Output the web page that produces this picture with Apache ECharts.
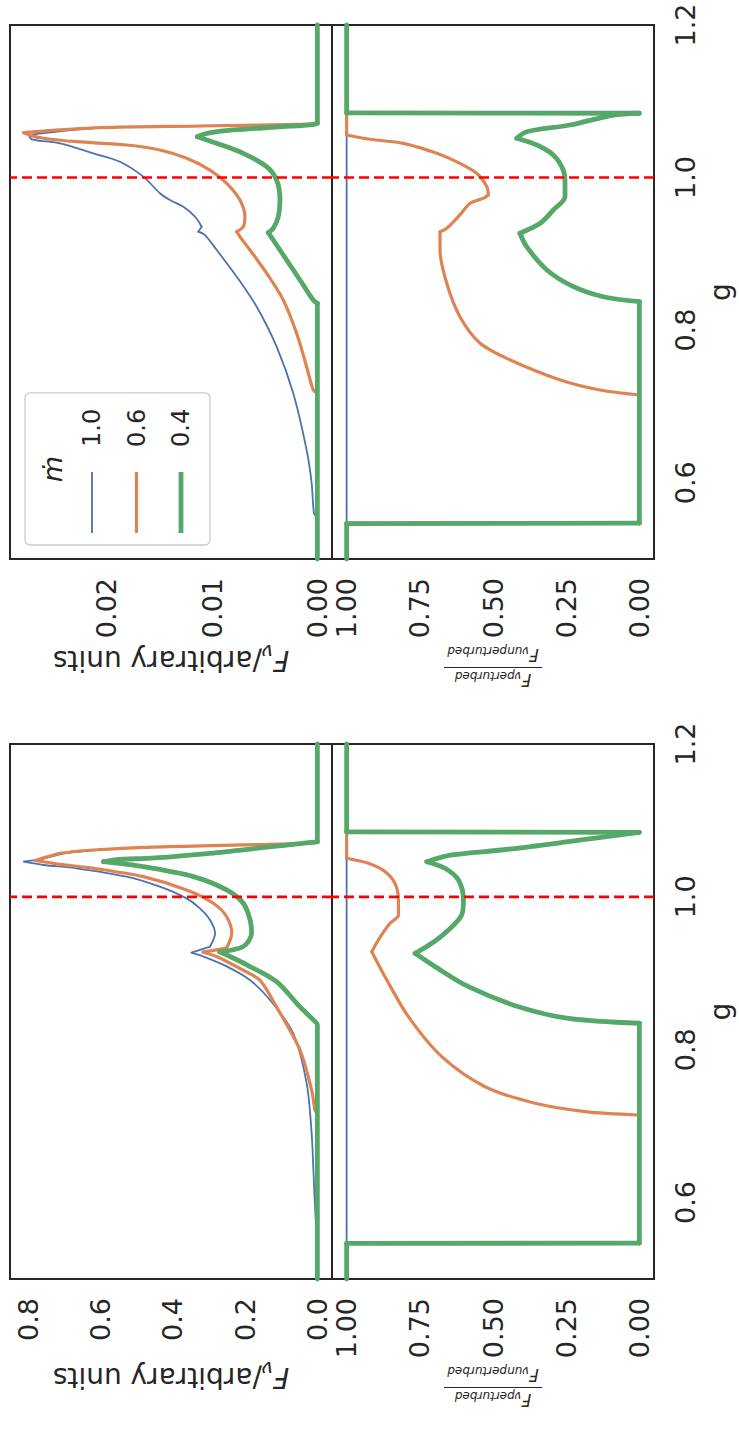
<!DOCTYPE html>
<html><head><meta charset="utf-8">
<script src="https://cdn.jsdelivr.net/npm/echarts@6/dist/echarts.min.js"></script>
<style>
html,body{margin:0;padding:0;background:#fff;overflow:hidden;width:739px;height:1436px;}
#wrap{position:absolute;left:0;top:0;width:1436px;height:739px;transform-origin:0 0;transform:translate(0px,1436px) rotate(-90deg);background:#fff;}
</style></head><body><div id="wrap"></div><script>
// ---- tick values ----
const gTicks = [0.6, 0.8, 1.0, 1.2];
const strongFluxTicks = [0, 0.2, 0.4, 0.6, 0.8];
const weakFluxTicks = [0, 0.01, 0.02];
const ratioTicks = [0, 0.25, 0.5, 0.75, 1.0];
const mdotNames = ['1.0', '0.6', '0.4'];

// ---- left figure (strong) : F_nu vs g ----
const strongFlux10 = [[0.5,0],[0.545,0],[0.55,0.001],[0.5815,0.005],[0.625,0.0094],[0.6906,0.0158],[0.756,0.0296],[0.8215,0.0667],[0.865,0.131],[0.891,0.186],[0.909,0.251],[0.922,0.316],[0.927,0.348],[0.935,0.297],[0.9523,0.283],[0.9697,0.297],[0.985,0.325],[0.998,0.362],[1.0133,0.436],[1.0264,0.528],[1.0374,0.666],[1.0417,0.758],[1.046,0.812],[1.049,0.77],[1.053,0.735],[1.057,0.70],[1.0613,0.61],[1.0648,0.475],[1.067,0.29],[1.070,0.02],[1.0715,0],[1.2,0]];
const strongFlux06 = [[0.5,0],[0.715,0],[0.718,0.003],[0.721,0.0066],[0.747,0.0158],[0.7996,0.048],[0.856,0.113],[0.891,0.159],[0.904,0.205],[0.922,0.279],[0.9276,0.316],[0.933,0.251],[0.9523,0.237],[0.974,0.251],[0.9916,0.288],[1.009,0.362],[1.0264,0.482],[1.0374,0.62],[1.0426,0.712],[1.0476,0.78],[1.052,0.75],[1.057,0.712],[1.0613,0.62],[1.0648,0.482],[1.067,0.297],[1.070,0.02],[1.0715,0],[1.2,0]];
const strongFlux04 = [[0.5,0],[0.8325,0],[0.839,0.011],[0.856,0.048],[0.889,0.113],[0.911,0.195],[0.922,0.242],[0.928,0.27],[0.935,0.205],[0.9523,0.182],[0.9697,0.186],[0.9916,0.205],[1.009,0.251],[1.0264,0.343],[1.0395,0.482],[1.046,0.592],[1.0485,0.56],[1.051,0.45],[1.057,0.297],[1.065,0.14],[1.0705,0.03],[1.072,0],[1.2,0]];
// ---- left figure (strong) : ratio vs g ----
const strongRatio10 = [[0.5,1],[1.2,1]];
const strongRatio06 = [[0.5,1],[0.547,1],[0.5472,0],[0.7146,0],[0.719,0.185],[0.7299,0.356],[0.7516,0.527],[0.7909,0.675],[0.8432,0.789],[0.8955,0.869],[0.9282,0.914],[0.9435,0.892],[0.9654,0.852],[0.9763,0.823],[0.9959,0.823],[1.0177,0.835],[1.033,0.869],[1.0439,0.926],[1.0505,1],[1.2,1]];
const strongRatio04 = [[0.5,1],[0.5465,1],[0.547,0],[0.8346,0],[0.8411,0.243],[0.8563,0.413],[0.8825,0.584],[0.9087,0.698],[0.9261,0.766],[0.9392,0.709],[0.9566,0.652],[0.9763,0.607],[0.9959,0.601],[1.022,0.618],[1.0374,0.664],[1.046,0.726],[1.0548,0.641],[1.0613,0.47],[1.0722,0.243],[1.0809,0.072],[1.0845,0],[1.085,1],[1.2,1]];

// ---- right figure (weak) : F_nu vs g ----
const weakFlux10 = [[0.5,0],[0.553,0],[0.5599,0.00032],[0.5992,0.00054],[0.6429,0.00102],[0.7172,0.00229],[0.7783,0.00387],[0.8307,0.00576],[0.8701,0.00766],[0.9051,0.00956],[0.9247,0.01067],[0.9291,0.01131],[0.9356,0.01099],[0.9487,0.01162],[0.9618,0.01273],[0.9706,0.014],[0.9794,0.01495],[1.0012,0.01653],[1.0208,0.01875],[1.0318,0.02128],[1.0449,0.02444],[1.0502,0.02713],[1.056,0.0274],[1.0654,0.0203],[1.0676,0.0109],[1.0702,0.0003],[1.0715,0],[1.2,0]];
const weakFlux06 = [[0.5,0],[0.716,0],[0.7215,0.00039],[0.7521,0.00102],[0.7959,0.00197],[0.8395,0.00324],[0.8745,0.00481],[0.9051,0.0064],[0.9225,0.00735],[0.9291,0.00766],[0.9356,0.00704],[0.9487,0.00688],[0.9706,0.00735],[0.9925,0.00861],[1.0099,0.0102],[1.0253,0.01241],[1.0362,0.01495],[1.0427,0.01811],[1.047,0.02286],[1.0515,0.02603],[1.055,0.0272],[1.059,0.0279],[1.0654,0.0206],[1.0676,0.0111],[1.0702,0.0004],[1.0715,0],[1.2,0]];
const weakFlux04 = [[0.5,0],[0.8352,0],[0.8395,0.00039],[0.8657,0.00165],[0.892,0.00292],[0.9182,0.00419],[0.9277,0.00466],[0.9335,0.00419],[0.9487,0.00371],[0.9706,0.00355],[0.9968,0.00387],[1.0143,0.00482],[1.0318,0.00704],[1.0449,0.00956],[1.0536,0.0114],[1.058,0.0105],[1.0624,0.0080],[1.0667,0.0033],[1.0695,0.0004],[1.0712,0],[1.2,0]];
// ---- right figure (weak) : ratio vs g ----
const weakRatio10 = [[0.5,1],[1.2,1]];
const weakRatio06 = [[0.5,1],[0.547,1],[0.5472,0],[0.715,0],[0.7215,0.134],[0.7347,0.27],[0.7609,0.441],[0.7828,0.544],[0.8176,0.613],[0.8614,0.658],[0.9051,0.681],[0.9291,0.681],[0.9335,0.658],[0.951,0.613],[0.9663,0.578],[0.9728,0.533],[0.9772,0.516],[0.988,0.521],[1.0056,0.556],[1.0187,0.613],[1.0318,0.692],[1.0449,0.806],[1.0502,0.92],[1.0558,1],[1.2,1]];
const weakRatio04 = [[0.5,1],[0.5465,1],[0.547,0],[0.8373,0],[0.8438,0.123],[0.857,0.225],[0.8789,0.316],[0.9094,0.385],[0.927,0.408],[0.94,0.339],[0.9575,0.294],[0.975,0.254],[0.9925,0.254],[1.0099,0.26],[1.0296,0.294],[1.0427,0.35],[1.0515,0.419],[1.0601,0.385],[1.0689,0.237],[1.082,0.089],[1.0843,0],[1.0848,1],[1.2,1]];

const redLineG = 1.0;

// ---- styling ----
const FONT = 'DejaVu Sans';
const TXT = '#262626';
const COLORS = {'1.0':'#4C72B0','0.6':'#DD8452','0.4':'#55A868'};
const WIDTHS = {'1.0':1.8,'0.6':3.2,'0.4':4.8};

const chart = echarts.init(document.getElementById('wrap'), null, {renderer:'svg', width:1436, height:739});

const grids = [
  {left:157, top:10, width:535, height:322},
  {left:157, top:332, width:535, height:322},
  {left:877, top:10, width:534, height:322},
  {left:877, top:332, width:534, height:322}
].map(g => Object.assign(g, {show:true, borderColor:'#262626', borderWidth:2, backgroundColor:'rgba(0,0,0,0)', containLabel:false, outerBoundsMode:'none'}));

function xAx(i, showLabels) {
  return {
    type:'value', gridIndex:i, min:0.5, max:1.2,
    axisLine:{show:false}, axisTick:{show:false, customValues:gTicks}, splitLine:{show:false},
    axisLabel:{show:showLabels, customValues:gTicks, formatter:v=>v.toFixed(1), fontFamily:FONT, fontSize:27, color:TXT, margin:18},
    name: showLabels ? 'g' : '', nameLocation:'middle', nameGap:52,
    nameTextStyle:{fontFamily:FONT, fontSize:28, color:TXT}
  };
}
const fluxName = '{f|F}{s|ν}{r|/arbitrary units}';
const fluxRich = {
  f:{fontFamily:FONT, fontSize:28, fontStyle:'italic', color:TXT, lineHeight:36},
  s:{fontFamily:FONT, fontSize:20, fontStyle:'italic', color:TXT, verticalAlign:'bottom', lineHeight:22},
  r:{fontFamily:FONT, fontSize:28, color:TXT, lineHeight:36}
};
const ratioName = '{f|F}{s|νperturbed}\n{hr|}\n{f|F}{s|νunperturbed}';
const ratioRich = {
  f:{fontFamily:FONT, fontSize:17, fontStyle:'italic', color:TXT, lineHeight:20},
  s:{fontFamily:FONT, fontSize:12, fontStyle:'italic', color:TXT, verticalAlign:'bottom', lineHeight:12},
  hr:{backgroundColor:TXT, width:98, height:1.2, lineHeight:5, align:'center'}
};
function yAx(i, min, max, ticks, dec, name, rich, gap) {
  return {
    type:'value', gridIndex:i, min:min, max:max,
    axisLine:{show:false}, axisTick:{show:false, customValues:ticks}, splitLine:{show:false},
    axisLabel:{customValues:ticks, formatter:v=>v.toFixed(dec), fontFamily:FONT, fontSize:27, color:TXT, margin:19},
    name:name, nameLocation:'middle', nameGap:gap,
    nameTextStyle:{fontFamily:FONT, fontSize:28, color:TXT, rich:rich}
  };
}
const yAxes = [
  yAx(0, -0.0405, 0.8505, strongFluxTicks, 1, fluxName, fluxRich, 80),
  yAx(1, -0.05, 1.05, ratioTicks, 2, ratioName, ratioRich, 86),
  yAx(2, -0.00139, 0.02919, weakFluxTicks, 2, fluxName, fluxRich, 80),
  yAx(3, -0.05, 1.05, ratioTicks, 2, ratioName, ratioRich, 86)
];

chart.setOption({
  animation:false,
  backgroundColor:'#ffffff',
  grid:grids,
  xAxis:[xAx(0,false), xAx(1,true), xAx(2,false), xAx(3,true)],
  yAxis:yAxes,
  legend:{
    data: mdotNames.map(n => ({name:n, icon:'path://M0,0L61,0L61,' + WIDTHS[n] + 'L0,' + WIDTHS[n] + 'Z', itemStyle:{color:COLORS[n]}})),
    orient:'vertical', left:891, top:25,
    padding:[55,16,17,12],
    itemWidth:61, itemHeight:24, itemGap:20.5, symbolKeepAspect:true,
    backgroundColor:'rgba(255,255,255,0.8)', borderColor:'#cccccc', borderWidth:1.3, borderRadius:5,
    textStyle:{fontFamily:FONT, fontSize:24, color:TXT, padding:[0,0,0,20]},
    selectedMode:false
  },
  graphic:[{type:'text', x:967, y:52, z:100,
    style:{text:'ṁ', fontFamily:FONT, fontSize:27, fontStyle:'italic', fill:TXT, align:'center', verticalAlign:'middle', textAlign:'center', textVerticalAlign:'middle'}}],
  series:[]
});

// split each curve at sharp corners (measured in pixels through the chart's own scales), smooth each run
function turnDeg(a, b) {
  const la = Math.hypot(a[0], a[1]), lb = Math.hypot(b[0], b[1]);
  if (la < 1e-9 || lb < 1e-9) return 0;
  let c = (a[0]*b[0] + a[1]*b[1]) / (la*lb);
  c = Math.max(-1, Math.min(1, c));
  return Math.acos(c) * 180 / Math.PI;
}
function splitRuns(gi, data) {
  const px = data.map(p => chart.convertToPixel({gridIndex: gi}, p));
  const runs = [];
  let cur = [data[0]];
  for (let i = 1; i < data.length; i++) {
    cur.push(data[i]);
    if (i < data.length - 1) {
      const a = [px[i][0]-px[i-1][0], px[i][1]-px[i-1][1]];
      const b = [px[i+1][0]-px[i][0], px[i+1][1]-px[i][1]];
      if (turnDeg(a, b) > 50) { runs.push(cur); cur = [data[i]]; }
    }
  }
  runs.push(cur);
  return runs;
}

const panels = [
  [strongFlux10, strongFlux06, strongFlux04],
  [strongRatio10, strongRatio06, strongRatio04],
  [weakFlux10, weakFlux06, weakFlux04],
  [weakRatio10, weakRatio06, weakRatio04]
];
const series = [];
panels.forEach((p, gi) => {
  p.forEach((d, k) => {
    const name = mdotNames[k];
    splitRuns(gi, d).forEach(run => {
      series.push({
        name:name, type:'line', xAxisIndex:gi, yAxisIndex:gi, data:run,
        symbol:'none', showSymbol:false, smooth: run.length > 2 ? 0.3 : false,
        animation:false, clip:true,
        lineStyle:{color:COLORS[name], width:WIDTHS[name], join:'round', cap:'round'},
        itemStyle:{color:COLORS[name]}
      });
    });
  });
  // red dashed reference line at g = 1.0 spanning the panel
  series.push({
    name:'g=1', type:'line', xAxisIndex:gi, yAxisIndex:gi,
    data:[[redLineG, yAxes[gi].min], [redLineG, yAxes[gi].max]],
    symbol:'none', showSymbol:false, animation:false, silent:true, clip:true,
    lineStyle:{color:'#ff0000', width:2.6, type:[10,5]}, z:5
  });
});
chart.setOption({series: series});
</script></body></html>
